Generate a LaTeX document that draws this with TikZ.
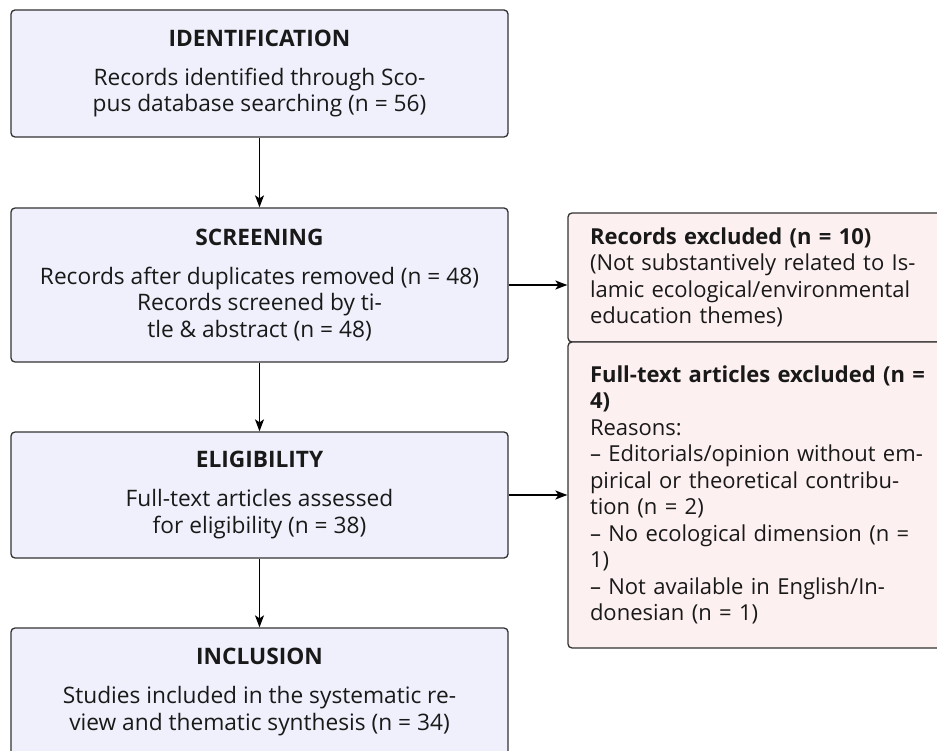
\documentclass[tikz,border=0pt]{standalone}
\usepackage{fontspec}
\setmainfont{Open Sans}
\usetikzlibrary{arrows.meta}
\definecolor{leftfill}{RGB}{240,240,252}
\definecolor{rightfill}{RGB}{253,240,240}
\definecolor{edgecol}{RGB}{51,51,51}
\definecolor{txt}{RGB}{25,25,25}
\newcommand{\bodyfont}{\fontsize{22.7}{26.8}\selectfont}
\newcommand{\sidefont}{\fontsize{22}{26.5}\selectfont}
\begin{document}
\begin{tikzpicture}[x=1pt,y=-1pt,
  stagebox/.style={draw=edgecol, line width=1.3pt, fill=leftfill, rounded corners=4pt,
    minimum width=497pt, align=center, inner sep=0pt, font=\bodyfont, text=txt},
  exclbox/.style={draw=edgecol, line width=1.3pt, fill=rightfill, rounded corners=4pt,
    text width=346pt, inner xsep=22pt, inner ysep=0pt, align=left, font=\sidefont, text=txt},
  arr/.style={draw=black, line width=1.3pt, -{Stealth[length=12pt,width=9pt,inset=3pt]}}]
\clip (0,0) rectangle (937,751);
\fill[white] (0,0) rectangle (937,751);
\node[stagebox, minimum height=127pt] (ident) at (259.5,73.5)
  {\textbf{IDENTIFICATION}\\[12pt]Records identified through Sco-\\pus database searching (n = 56)};
\node[stagebox, minimum height=154pt] (screen) at (259.5,285)
  {\textbf{SCREENING}\\[12pt]Records after duplicates removed (n = 48)\\Records screened by ti-\\tle \& abstract (n = 48)};
\node[stagebox, minimum height=126pt] (elig) at (259.5,495)
  {\textbf{ELIGIBILITY}\\[12pt]Full-text articles assessed\\for eligibility (n = 38)};
\node[stagebox, minimum height=128pt] (incl) at (259.5,692)
  {\textbf{INCLUSION}\\[12pt]Studies included in the systematic re-\\view and thematic synthesis (n = 34)};
\node[exclbox, minimum height=129pt] (excla) at (763,277.5)
  {\textbf{Records excluded (n = 10)}\\(Not substantively related to Is-\\lamic ecological/environmental\\education themes)};
\node[exclbox, minimum height=306pt] (exclb) at (763,495)
  {\textbf{Full-text articles excluded (n =}\\\textbf{4)}\\Reasons:\\– Editorials/opinion without em-\\pirical or theoretical contribu-\\tion (n = 2)\\– No ecological dimension (n =\\1)\\– Not available in English/In-\\donesian (n = 1)};
\draw[arr] (ident) -- (screen);
\draw[arr] (screen) -- (elig);
\draw[arr] (elig) -- (incl);
\draw[arr] (screen.east) -- (screen.east -| excla.west);
\draw[arr] (elig.east) -- (elig.east -| exclb.west);
\end{tikzpicture}
\end{document}
